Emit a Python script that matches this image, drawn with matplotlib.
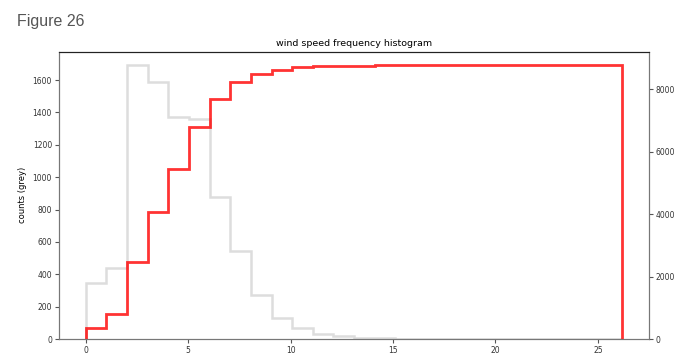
import numpy as np
import matplotlib
matplotlib.use('Agg')
import matplotlib.pyplot as plt

# wind speed histogram, 26 equal bins from 0 to max speed
wind_max = 26.2
n_bins = 26
counts = [346, 441, 1693, 1586, 1371, 1362, 878, 542, 274, 132, 70, 31, 17,
          8, 5, 3, 2, 1, 1, 0, 0, 0, 0, 0, 0, 1]

title = 'wind speed frequency histogram'
xlabel = 'wind speed bins, m/s'
ylabel = 'counts (grey)'

edges = np.linspace(0, wind_max, n_bins + 1)
cum_counts = np.cumsum(counts)

fig = plt.figure(figsize=(6.77, 3.59), dpi=100)
fig.text(0.025, 0.94, 'Figure 26', fontsize=11.5, color='#555555',
         family='Liberation Sans', va='center')

ax = fig.add_axes([0.0871, 0.0557, 0.8716, 0.8003])
ax.stairs(counts, edges, baseline=0, color='#dddddd', linewidth=1.8)
ax.set_xlim(-1.31, 27.5)
ax.set_ylim(0, 1775)
ax.set_title(title, fontsize=6.8, pad=4)
ax.set_xlabel(xlabel, fontsize=6, labelpad=3)
ax.set_ylabel(ylabel, fontsize=6, labelpad=4)
ax.tick_params(labelsize=5.5, length=3, pad=2, color='#555555', labelcolor='#333333')

ax2 = ax.twinx()
ax2.stairs(cum_counts, edges, baseline=0, color='red', alpha=0.8, linewidth=2)
ax2.set_ylim(0, 9196)
ax2.tick_params(labelsize=5.5, length=3, pad=2, color='#555555', labelcolor='#333333')

for a in (ax, ax2):
    for side in ('left', 'right', 'bottom'):
        a.spines[side].set_color('#777777')
    a.spines['top'].set_color('#222222')

fig.savefig('out.png', dpi=100)
